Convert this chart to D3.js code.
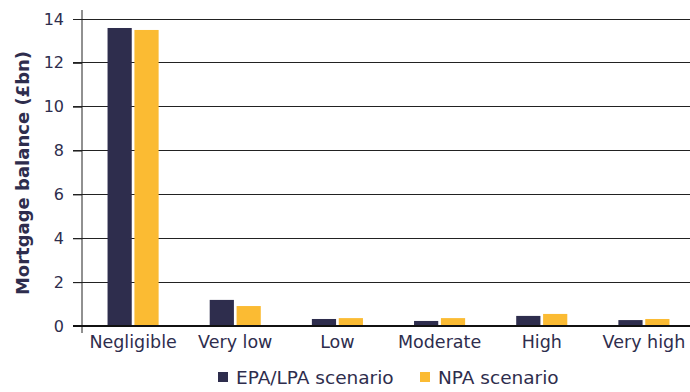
<!DOCTYPE html>
<html><head><meta charset="utf-8">
<script src="https://cdn.jsdelivr.net/npm/d3@7"></script>
<style>body{margin:0;background:#fff;} svg{display:block;font-family:"DejaVu Sans",sans-serif;}</style>
</head><body><svg id="c" width="690" height="392"></svg>
<script>
const categories = ["Negligible","Very low","Low","Moderate","High","Very high"];
const seriesNames = ["EPA/LPA scenario","NPA scenario"];
const epaValues = [13.59,1.19,0.32,0.23,0.46,0.27];
const npaValues = [13.5,0.91,0.36,0.36,0.55,0.32];
const yTicks = [0,2,4,6,8,10,12,14];
const colors = ["#2e2d4d","#fbbb33"];
const textColor = "#2e2d4d";

const svg = d3.select("#c");
const mLeft = 82, mRight = 695, mTop = 19, mBottom = 326;
const y = d3.scaleLinear().domain([0,14]).range([mBottom, mTop]);
const x0 = d3.scaleBand().domain(categories).range([mLeft, mRight]).paddingInner(0.5).paddingOuter(0.25);
const x1 = d3.scaleBand().domain(seriesNames).range([0, x0.bandwidth()]).paddingInner(0.1);

// gridlines
svg.append("g").selectAll("line").data(yTicks.filter(d=>d>0)).join("line")
  .attr("x1", 73).attr("x2", 690).attr("y1", d=>y(d)).attr("y2", d=>y(d))
  .attr("stroke", "#222").attr("stroke-width", 1).attr("shape-rendering","crispEdges");

// y axis
const ya = svg.append("g").attr("transform", `translate(${mLeft},0)`)
  .call(d3.axisLeft(y).tickValues(yTicks).tickSize(9).tickPadding(9).tickFormat(d3.format("d")));
ya.select(".domain").remove();
ya.selectAll(".tick line").attr("stroke","#222");
ya.selectAll("text").attr("fill", textColor).style("font-size","16px").style("font-family","DejaVu Sans");
svg.append("line").attr("x1",mLeft).attr("x2",mLeft).attr("y1",10).attr("y2",333).attr("stroke","#222").attr("stroke-width",1);

// bars
const data = categories.map((c,i)=>({c, vals:[epaValues[i], npaValues[i]]}));
svg.append("g").selectAll("g").data(data).join("g")
  .attr("transform", d=>`translate(${x0(d.c)},0)`)
  .selectAll("rect").data(d=>d.vals.map((v,j)=>({v, s:seriesNames[j], j})))
  .join("rect")
  .attr("x", d=>x1(d.s)).attr("width", x1.bandwidth())
  .attr("y", d=>y(d.v)).attr("height", d=>y(0)-y(d.v))
  .attr("fill", d=>colors[d.j]);

// zero line
svg.append("line").attr("x1",73).attr("x2",690).attr("y1",y(0)).attr("y2",y(0)).attr("stroke","#111").attr("stroke-width",2.2);

// x labels
svg.append("g").selectAll("text").data(categories).join("text")
  .attr("x", d=>x0(d)+x0.bandwidth()/2).attr("y", 348)
  .attr("text-anchor","middle").attr("fill", textColor).style("font-size","17.5px").text(d=>d);

// y title
svg.append("text").attr("transform","translate(29,173) rotate(-90)")
  .attr("text-anchor","middle").attr("fill", textColor).style("font-size","18px").style("font-weight","bold")
  .text("Mortgage balance (£bn)");

// legend
const legX = [218, 420];
const lg = svg.append("g").selectAll("g").data(seriesNames).join("g")
  .attr("transform",(d,i)=>`translate(${legX[i]},372)`);
lg.append("rect").attr("width",10).attr("height",10).attr("fill",(d,i)=>colors[i]);
lg.append("text").attr("x",18).attr("y",12).attr("fill",textColor).style("font-size","18.5px").text(d=>d);
</script></body></html>
